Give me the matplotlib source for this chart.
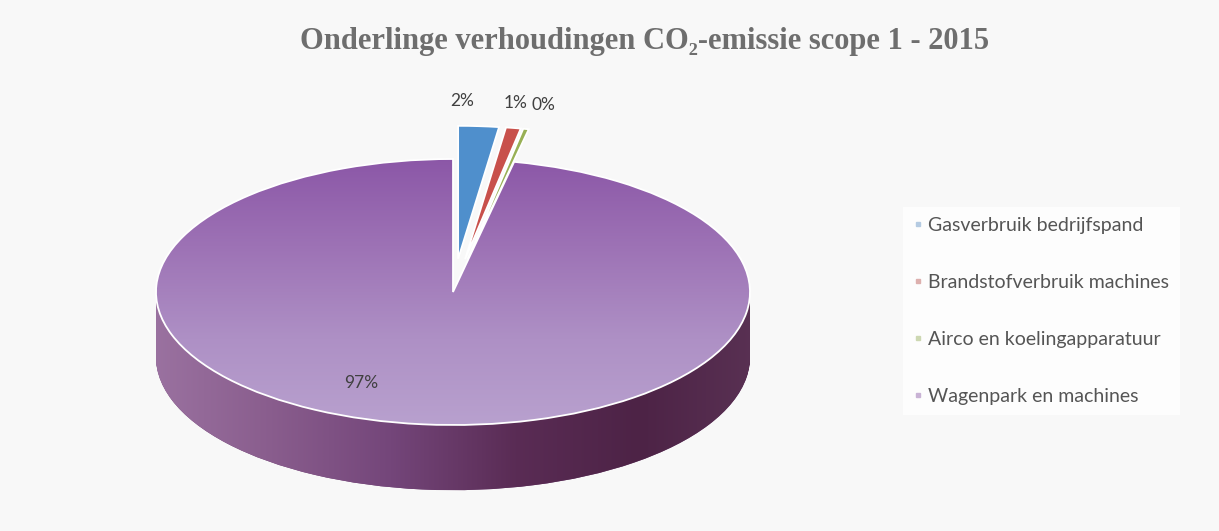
import numpy as np
import matplotlib.pyplot as plt
from matplotlib.path import Path
from matplotlib.patches import PathPatch
from matplotlib.lines import Line2D
from matplotlib.colors import LinearSegmentedColormap

categories = ['Gasverbruik bedrijfspand', 'Brandstofverbruik machines',
              'Airco en koelingapparatuur', 'Wagenpark en machines']
shares = [2.2, 0.8, 0.3, 96.7]
pct_labels = ['2%', '1%', '0%', '97%']
explode = [0.25, 0.25, 0.25, 0.0]
top_colors = ['#4F8FCC', '#C8504B', '#98B055', '#9D6BB3']
legend_colors = ['#B5CBE2', '#DDB0AE', '#CDD8B2', '#C9B3D5']
side_colors = ['none', 'none', 'none', '#6E3F72']

# label spots (data units of the squashed pie)
label_pos = [(0.03, 1.436), (0.209, 1.42), (0.306, 1.406), (-0.31, -0.684)]

fig = plt.figure(figsize=(12.19, 5.31), dpi=100)
fig.patch.set_facecolor('#F8F8F8')
ax = fig.add_axes([100/1219, 11/531, 720/1219, 460/531])

# side of the 3D disc: stacked copies of the pie, shifted down
depth = 0.49
side_wedges = []
for d in np.linspace(depth, 0.0, 50)[:-1]:
    w, _ = ax.pie(shares, explode=explode, colors=side_colors, startangle=90,
                  counterclock=False, center=(0, -d),
                  wedgeprops=dict(linewidth=0, zorder=1))
    side_wedges.append(w[3])

paths = [w.get_path().transformed(w.get_patch_transform()) for w in side_wedges]
side_clip = PathPatch(Path.make_compound_path(*paths), transform=ax.transData)
side_cmap = LinearSegmentedColormap.from_list(
    'side', ['#9C74A2', '#8A5E8E', '#74467A', '#5A2C55', '#4D2346', '#5A3254'])
grad = np.linspace(0, 1, 256).reshape(1, -1)
im = ax.imshow(grad, extent=(-1.05, 1.05, -1.0 - depth - 0.05, 0.1), cmap=side_cmap,
               aspect='auto', zorder=1.5, interpolation='bicubic')
im.set_clip_path(side_clip)

# top face
wedges, _ = ax.pie(shares, explode=explode, colors=top_colors, startangle=90,
                   counterclock=False,
                   wedgeprops=dict(linewidth=1.3, edgecolor='white', zorder=2))
top = wedges[3]
top.set_facecolor('none')
top.set_zorder(3)
top_cmap = LinearSegmentedColormap.from_list(
    'top', ['#8A55A6', '#9D72B5', '#AE90C5', '#B9A2CF'])
vgrad = np.linspace(0, 1, 256).reshape(-1, 1)
im2 = ax.imshow(vgrad, extent=(-1.05, 1.05, -1.05, 1.05), cmap=top_cmap,
                aspect='auto', zorder=2.5, interpolation='bicubic')
im2.set_clip_path(top)

for (x, y), t in zip(label_pos, pct_labels):
    ax.text(x, y, t, ha='center', va='center', fontsize=12.5, color='#404040',
            family='Lato', zorder=5)

ax.set_aspect('auto')
ax.set_xlim((100 - 453) / 297, (820 - 453) / 297)
ax.set_ylim((292 - 520) / 133, (292 - 60) / 133)
ax.axis('off')

fig.text(645/1219, 1 - 42/531, 'Onderlinge verhoudingen CO₂-emissie scope 1 - 2015',
         ha='center', va='center', fontsize=22, fontweight='bold',
         color='#6E6E6E', family=['Liberation Serif', 'DejaVu Serif'])

handles = [Line2D([], [], marker='s', linestyle='none', markersize=3,
                  color=c) for c in legend_colors]
leg = fig.legend(handles, categories, loc='center left',
                 bbox_to_anchor=(903/1219, 1 - 311/531), frameon=True,
                 fontsize=14, labelspacing=2.05, handlelength=0.4,
                 handletextpad=0.35, borderpad=0.55, borderaxespad=0)
leg.get_frame().set_facecolor('white')
leg.get_frame().set_edgecolor('none')
leg.get_frame().set_boxstyle('square', pad=0)
for t in leg.get_texts():
    t.set_color('#555555')
    t.set_family('Lato')

fig.savefig('out.png', dpi=100, facecolor=fig.get_facecolor())
